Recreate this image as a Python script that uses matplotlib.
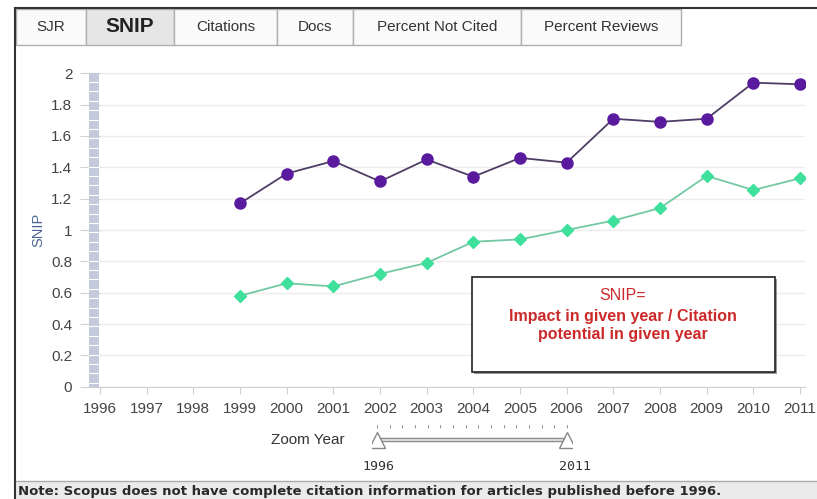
import numpy as np
import matplotlib.pyplot as plt
from matplotlib.patches import Rectangle
from matplotlib.lines import Line2D

# Datos
years = [1999, 2000, 2001, 2002, 2003, 2004, 2005, 2006, 2007, 2008, 2009, 2010, 2011]
snip_purple = [1.17, 1.36, 1.44, 1.31, 1.45, 1.34, 1.46, 1.43, 1.71, 1.69, 1.71, 1.94, 1.93]
snip_green = [0.58, 0.66, 0.64, 0.72, 0.79, 0.925, 0.94, 1.00, 1.06, 1.14, 1.345, 1.255, 1.33]
year_ticks = list(range(1996, 2012))
y_ticks = [0, 0.2, 0.4, 0.6, 0.8, 1, 1.2, 1.4, 1.6, 1.8, 2]
y_labels = ['0', '0.2', '0.4', '0.6', '0.8', '1', '1.2', '1.4', '1.6', '1.8', '2']
tabs = ['SJR', 'SNIP', 'Citations', 'Docs', 'Percent Not Cited', 'Percent Reviews']
tab_edges = [16, 86, 174, 277, 353, 521, 681]

W, H = 817, 499
plt.rcParams['font.family'] = ['Liberation Sans', 'DejaVu Sans']


def fx(px):
    return px / W


def fy(py):
    return 1 - py / H


fig = plt.figure(figsize=(W / 100, H / 100), dpi=100)
fig.patch.set_facecolor('white')

# Pestañas
for i, name in enumerate(tabs):
    x0, x1 = tab_edges[i], tab_edges[i + 1]
    sel = name == 'SNIP'
    fig.patches.append(Rectangle((fx(x0), fy(45)), fx(x1 - x0), 36 / H,
                                 transform=fig.transFigure,
                                 facecolor='#e6e6e6' if sel else '#fafafa',
                                 edgecolor='#b0b0b0', linewidth=1))
    fig.text(fx((x0 + x1) / 2), fy(27), name, ha='center', va='center',
             fontsize=15 if sel else 11, fontweight='bold' if sel else 'normal',
             color='#222222' if sel else '#333333')
fig.lines.append(Line2D([fx(15), 1], [fy(8), fy(8)], transform=fig.transFigure,
                        color='#333333', linewidth=1.5))
fig.lines.append(Line2D([fx(15), fx(15)], [fy(8), 0], transform=fig.transFigure,
                        color='#333333', linewidth=1.5))

# Gráfico principal
ax = fig.add_axes([fx(100), fy(386.7), fx(704.7), (386.7 - 73.3) / H])
ax.plot(years, snip_purple, color='#4e3d66', linewidth=1.3, marker='o',
        markersize=8, markerfacecolor='#5a1a9e', markeredgecolor='#5a1a9e', zorder=3)
ax.plot(years, snip_green, color='#72c9a3', linewidth=1.3, marker='D',
        markersize=6, markerfacecolor='#3ee09b', markeredgecolor='#3ee09b', zorder=3)
ax.set_xlim(1996, 2011.1)
ax.set_ylim(0, 2)
ax.set_xticks(year_ticks)
ax.set_xticklabels([str(y) for y in year_ticks])
ax.set_yticks(y_ticks)
ax.set_yticklabels(y_labels)
ax.grid(axis='y', color='#ececec', linewidth=1)
ax.set_axisbelow(True)
for s in ['top', 'right', 'left']:
    ax.spines[s].set_visible(False)
ax.spines['bottom'].set_color('#d0d0d0')
ax.tick_params(axis='y', length=14.4, color='#d0d0d0', pad=5.5,
               labelsize=11, labelcolor='#444444')
ax.tick_params(axis='x', length=5, color='#d0d0d0', pad=6,
               labelsize=11, labelcolor='#444444')
ax.set_ylabel('SNIP', color='#4a6590', fontsize=10.5, labelpad=4)

# Barra lateral
fig.patches.append(Rectangle((fx(89), fy(386.7)), fx(10), (386.7 - 73.3) / H,
                             transform=fig.transFigure, facecolor='#c2cadb',
                             edgecolor='none', zorder=5))
for py in np.arange(82, 386, 9.4):
    fig.lines.append(Line2D([fx(89), fx(99)], [fy(py), fy(py)],
                            transform=fig.transFigure, color='white',
                            linewidth=0.8, zorder=6))

# Recuadro de anotación
fig.patches.append(Rectangle((fx(474), fy(374)), fx(303), 95 / H,
                             transform=fig.transFigure, facecolor='#999999',
                             edgecolor='none', zorder=6))
fig.patches.append(Rectangle((fx(472), fy(372)), fx(303), 95 / H,
                             transform=fig.transFigure, facecolor='white',
                             edgecolor='#222222', linewidth=1.2, zorder=7))
fig.text(fx(623), fy(295), 'SNIP=', ha='center', va='center', color='#cc2a2a',
         fontsize=11.5, zorder=8)
fig.text(fx(623), fy(316), 'Impact in given year / Citation', ha='center',
         va='center', color='#cc2a2a', fontsize=11.5, fontweight='bold', zorder=8)
fig.text(fx(623), fy(335), 'potential in given year', ha='center', va='center',
         color='#cc2a2a', fontsize=11.5, fontweight='bold', zorder=8)

# Selector de años
fig.text(fx(308), fy(440), 'Zoom Year', ha='center', va='center',
         fontsize=11, color='#333333')
sax = fig.add_axes([fx(372), fy(455), fx(200), 30 / H])
sax.set_xlim(1996 - 0.4, 2011 + 0.4)
sax.set_ylim(0, 1)
sax.axis('off')
sax.plot([year_ticks[0], year_ticks[-1]], [0.5, 0.5], color='#8c8c8c', linewidth=3.2)
sax.plot([year_ticks[0], year_ticks[-1]], [0.5, 0.5], color='#e8e8e8', linewidth=1.2)
sax.vlines(year_ticks, 0.9, 1.02, color='#999999', linewidth=0.8)
sax.plot([year_ticks[0], year_ticks[-1]], [0.5, 0.5], linestyle='none', marker='^',
         markersize=12, markerfacecolor='white', markeredgecolor='#888888')
fig.text(fx(378), fy(466), str(year_ticks[0]), ha='center', va='center',
         fontsize=9.5, color='#333333', family='DejaVu Sans Mono')
fig.text(fx(575), fy(466), str(year_ticks[-1]), ha='center', va='center',
         fontsize=9.5, color='#333333', family='DejaVu Sans Mono')

# Pie de nota
fig.patches.append(Rectangle((fx(16), 0), 1, fy(481), transform=fig.transFigure,
                             facecolor='#ebebeb', edgecolor='none'))
fig.lines.append(Line2D([fx(16), 1], [fy(481), fy(481)], transform=fig.transFigure,
                        color='#aaaaaa', linewidth=1))
fig.text(fx(18), fy(491), 'Note: Scopus does not have complete citation information '
         'for articles published before 1996.', ha='left', va='center',
         fontsize=9.5, fontweight='bold', color='#2a2a2a', family='DejaVu Sans')

fig.savefig('out.png', dpi=100)
